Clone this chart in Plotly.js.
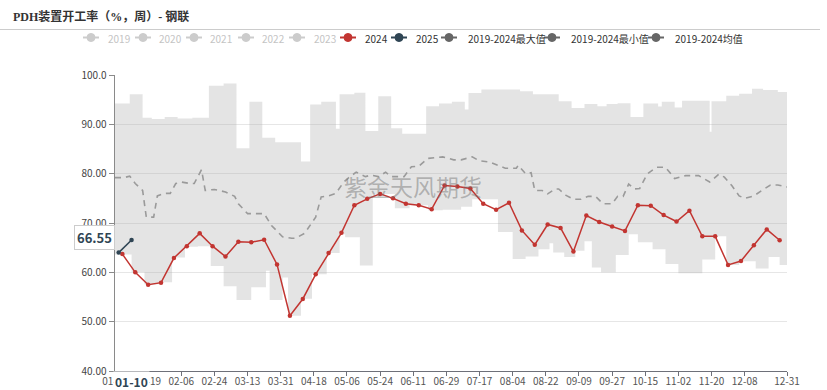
<!DOCTYPE html>
<html><head><meta charset="utf-8">
<script src="https://cdn.plot.ly/plotly-3.0.1.min.js"></script>
<style>html,body{margin:0;padding:0;background:#fff}#chart{width:827px;height:390px}</style>
</head><body><div id="chart"></div>
<script>
const YEAR = "2024-";

// 2024 weekly series
const weeks2024 = ["01-05","01-12","01-19","01-26","02-02","02-09","02-16","02-23","03-01","03-08","03-15","03-22","03-29","04-05","04-12","04-19","04-26","05-03","05-10","05-17","05-24","05-31","06-07","06-14","06-21","06-28","07-05","07-12","07-19","07-26","08-02","08-09","08-16","08-23","08-30","09-06","09-13","09-20","09-27","10-04","10-11","10-18","10-25","11-01","11-08","11-15","11-22","11-29","12-06","12-13","12-20","12-27"];
const values2024 = [63.7,60.0,57.5,57.9,62.9,65.3,67.9,65.3,63.2,66.2,66.1,66.6,61.6,51.2,54.6,59.6,63.9,68.0,73.6,74.9,75.9,75.0,73.9,73.6,72.8,77.6,77.4,77.0,73.9,72.7,74.1,68.5,65.6,69.7,69.0,64.2,71.5,70.2,69.3,68.4,73.6,73.5,71.6,70.3,72.5,67.3,67.3,61.5,62.3,65.5,68.7,66.5];

// 2025 weekly series
const weeks2025 = ["01-03","01-10"];
const values2025 = [64.0,66.55];

// 2019-2024 max (step changes)
const maxDates = ["01-01","01-09","01-16","01-21","01-28","02-04","02-12","02-21","02-29","03-07","03-14","03-21","03-28","04-11","04-16","04-22","04-30","05-02","05-10","05-16","05-23","05-30","06-05","06-18","06-25","07-02","07-09","07-11","07-18","08-08","08-15","08-29","09-05","09-12","09-19","09-24","09-30","10-07","10-14","10-22","10-24","10-31","11-04","11-19","11-20","11-28","12-05","12-12","12-18","12-26","12-31"];
const maxValues = [94.2,96.1,91.35,91.1,91.5,91.2,91.35,97.8,98.3,85.15,94.6,87.3,86.35,82.45,94.0,94.6,89.1,96.1,96.4,88.65,95.7,89.2,88.1,93.65,94.2,94.6,93.0,96.35,97.05,96.7,96.1,94.7,93.3,94.1,93.65,94.1,94.25,91.5,94.2,93.6,94.6,93.4,94.8,88.5,94.7,95.8,96.2,97.2,96.95,96.55,96.55];

// 2019-2024 min (step changes)
const minDates = ["01-01","01-10","01-17","01-25","02-01","02-08","02-15","02-22","02-29","03-07","03-15","03-23","03-25","04-01","04-04","04-11","04-17","04-25","05-02","05-05","05-13","05-20","06-01","06-09","06-19","06-27","07-07","07-13","07-27","08-04","08-11","08-18","08-24","08-26","09-01","09-07","09-12","09-16","09-21","09-29","10-06","10-11","10-19","10-26","11-02","11-15","11-22","11-28","12-05","12-14","12-21","12-27","12-31"];
const minValues = [63.6,60.0,57.6,58.0,63.0,65.2,65.3,61.3,57.2,54.4,57.0,60.3,54.4,58.95,51.2,54.65,59.6,63.9,67.7,67.1,61.4,75.9,73.0,73.6,72.6,72.7,73.3,74.8,68.2,62.7,63.2,64.7,65.9,64.0,63.1,64.4,66.3,61.0,60.0,63.5,67.7,66.1,64.7,61.7,59.8,62.6,67.3,61.5,62.25,60.8,63.1,61.5,61.5];

// 2019-2024 average
const avgDates = ["01-01","01-06","01-09","01-12","01-16","01-18","01-22","01-24","01-28","01-31","02-03","02-06","02-11","02-13","02-17","02-19","02-24","02-26","03-01","03-06","03-08","03-13","03-18","03-22","03-26","03-29","04-01","04-06","04-08","04-13","04-16","04-19","04-22","04-26","04-30","05-04","05-07","05-11","05-16","05-19","05-23","05-27","05-30","06-06","06-10","06-14","06-19","06-27","07-03","07-07","07-13","07-17","07-22","07-27","07-31","08-06","08-07","08-11","08-14","08-16","08-20","08-23","08-27","08-29","09-02","09-06","09-10","09-14","09-18","09-22","09-27","09-30","10-03","10-06","10-09","10-12","10-16","10-21","10-26","10-31","11-06","11-13","11-19","11-24","11-27","12-01","12-05","12-08","12-13","12-17","12-22","12-26","12-31"];
const avgValues = [79.2,79.2,79.5,78.0,76.6,71.2,71.2,75.5,76.0,76.0,78.0,78.3,78.0,78.0,80.8,76.6,76.8,76.6,76.3,75.4,73.9,71.9,71.9,71.9,69.5,68.3,67.2,66.9,66.9,67.9,69.5,71.2,75.3,75.5,76.0,78.2,79.2,80.3,79.4,79.7,79.4,80.3,79.4,79.4,81.4,81.5,83.1,83.4,82.8,82.8,83.4,82.6,82.4,81.7,81.1,81.1,81.7,80.0,80.2,76.6,76.6,75.9,76.9,76.9,75.6,74.8,74.8,75.4,75.4,73.9,73.9,75.4,75.4,77.9,76.9,77.0,79.9,81.3,81.3,79.0,79.6,79.6,78.3,79.9,79.3,77.6,75.5,75.0,75.5,76.5,77.7,77.7,77.3];

// axis ticks
const xTickDates = ["01-01","01-19","02-06","02-24","03-13","03-31","04-18","05-06","05-24","06-11","06-29","07-17","08-04","08-22","09-09","09-27","10-15","11-02","11-20","12-08","12-31"];
const yTickVals = [40,50,60,70,80,90,100];
const yTickLabels = ["40.00","50.00","60.00","70.00","80.00","90.00","100.0"];

// legend
const legendNames = ["2019","2020","2021","2022","2023","2024","2025","2019-2024最大值","2019-2024最小值","2019-2024均值"];
const legendColors = ["#cccccc","#cccccc","#cccccc","#cccccc","#cccccc","#c23531","#2f4554","#666666","#666666","#666666"];
const legendActive = [false,false,false,false,false,true,true,true,true,true];

const titleText = "PDH装置开工率（%，周）- 钢联";
const watermark = "紫金天风期货";
const pointerX = "01-10";
const pointerY = "66.55";

const d = a => a.map(s => YEAR + s);

// layout geometry helpers (pixel -> paper)
const L = 115, R = 787, T = 75, B = 371;
const PX = x => (x - L) / (R - L);
const PY = y => (B - y) / (B - T);

const FONT = "Noto Sans CJK SC, Noto Sans, sans-serif";

const traces = [
  {x: d(minDates), y: minValues, mode: "lines", line: {width: 0, shape: "hv", color: "rgba(0,0,0,0)"}, hoverinfo: "skip", showlegend: false},
  {x: d(maxDates), y: maxValues, mode: "lines", line: {width: 0, shape: "hv", color: "rgba(0,0,0,0)"}, fill: "tonexty", fillcolor: "rgba(170,170,170,0.32)", hoverinfo: "skip", showlegend: false},
  {x: d(avgDates), y: avgValues, mode: "lines", line: {width: 1.6, color: "#9a9a9a", dash: "6px,5px"}, hoverinfo: "skip", showlegend: false},
  {x: d(weeks2024), y: values2024, mode: "lines+markers", line: {width: 1.5, color: "#c23531"}, marker: {size: 4.5, color: "#c23531"}, showlegend: false},
  {x: d(weeks2025), y: values2025, mode: "lines+markers", line: {width: 1.5, color: "#2f4554"}, marker: {size: 4.5, color: "#2f4554"}, showlegend: false}
];

// manual legend (echarts-style)
const legCx = [91,143,194,246,297,348,399,449,552,656];
const legTx = [106,157,208,260,312,363,414,466,569,673];
const legY = 37.5;
const shapes = [
  {type: "line", xref: "paper", yref: "paper", x0: PX(0), x1: PX(820), y0: PY(29.5), y1: PY(29.5), line: {color: "#cccccc", width: 1}}
];
const annotations = [];
legendNames.forEach((n, i) => {
  const c = legendColors[i];
  shapes.push({type: "line", xref: "paper", yref: "paper", x0: PX(legCx[i] - 8), x1: PX(legCx[i] + 8), y0: PY(legY), y1: PY(legY), line: {color: c, width: 2}});
  shapes.push({type: "circle", xref: "paper", yref: "paper", xsizemode: "pixel", ysizemode: "pixel", xanchor: PX(legCx[i]), yanchor: PY(legY), x0: -4, x1: 4, y0: -4, y1: 4, fillcolor: c, line: {color: c, width: 1}});
  annotations.push({xref: "paper", yref: "paper", x: PX(legTx[i]), y: PY(legY + 0.5), xanchor: "left", yanchor: "middle", showarrow: false, text: n, font: {family: FONT, size: 10, color: legendActive[i] ? "#333333" : "#c4c4c4"}});
});

annotations.push({xref: "paper", yref: "paper", x: PX(413), y: PY(186), xanchor: "center", yanchor: "middle", showarrow: false, text: watermark, font: {family: FONT, size: 23, color: "rgba(110,110,110,0.45)"}});
annotations.push({xref: "x", yref: "paper", x: YEAR + pointerX, y: PY(381.5), xanchor: "center", yanchor: "middle", showarrow: false, text: "<b>" + pointerX + "</b>", font: {family: FONT, size: 12, color: "#2f4554"}, bgcolor: "#ffffff", borderpad: 1});
annotations.push({xref: "paper", yref: "y", x: PX(94), y: parseFloat(pointerY), yshift: 3, xanchor: "center", yanchor: "middle", showarrow: false, text: "<b>" + pointerY + "</b>", font: {family: FONT, size: 13, color: "#2f4554"}, bgcolor: "#ffffff", bordercolor: "#cccccc", borderwidth: 1, borderpad: 2});

const layout = {
  width: 827, height: 390,
  margin: {l: L, r: 827 - R, t: T, b: 390 - B, pad: 0},
  paper_bgcolor: "#ffffff", plot_bgcolor: "#ffffff",
  hovermode: false,
  showlegend: false,
  title: {text: "<b>" + titleText + "</b>", x: 13 / 827, xanchor: "left", xref: "container", y: 1 - 16.5 / 390, yanchor: "middle", yref: "container", font: {family: "Liberation Serif, Noto Sans CJK SC, serif", size: 12, color: "#333333"}},
  xaxis: {
    type: "date", range: [YEAR + "01-01", YEAR + "12-31"],
    tickvals: d(xTickDates), ticktext: xTickDates, tickangle: 0,
    showgrid: false, zeroline: false,
    showline: true, linecolor: "#6e7079", linewidth: 1,
    ticks: "outside", ticklen: 4, tickcolor: "#6e7079",
    ticklabelstandoff: -3,
    tickfont: {family: FONT, size: 10, color: "#555555"}
  },
  yaxis: {
    range: [40, 100], tickvals: yTickVals, ticktext: yTickLabels,
    showgrid: true, gridcolor: "#e6e6e6", gridwidth: 1, zeroline: false,
    showline: true, linecolor: "#8a8a8a", linewidth: 1.5,
    ticks: "outside", ticklen: 5, tickcolor: "#8a8a8a",
    tickfont: {family: FONT, size: 10, color: "#444444"}
  },
  shapes: shapes,
  annotations: annotations
};

Plotly.newPlot("chart", traces, layout, {displayModeBar: false, staticPlot: true});
</script>
</body></html>
